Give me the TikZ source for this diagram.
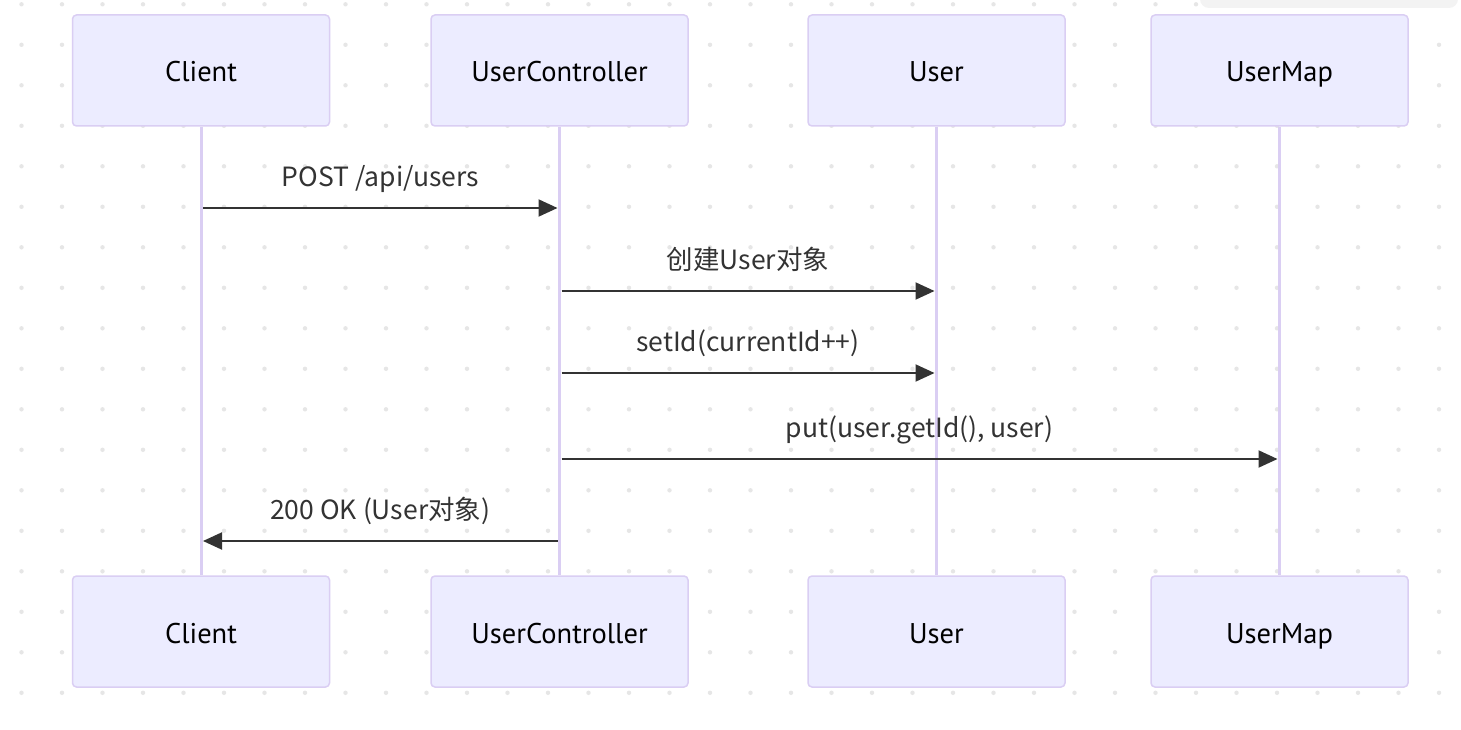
\documentclass[tikz,border=0pt]{standalone}
\usepackage{fontspec}
\usetikzlibrary{arrows.meta}
\newfontfamily\lblfont{Noto Sans CJK SC}
\newfontfamily\actfont{PT Sans}
\definecolor{actfill}{HTML}{ECECFF}
\definecolor{actline}{HTML}{DACEF3}
\definecolor{msgcol}{HTML}{333333}
\definecolor{dotcol}{HTML}{E6E6E6}
\definecolor{tabcol}{HTML}{F3F3F3}
\tikzset{
  actor/.style={draw=actline, line width=1.5pt, fill=actfill, rounded corners=4pt,
    minimum width=257pt, minimum height=111pt, inner sep=0pt,
    text height=28pt, text depth=5pt,
    font=\actfont\fontsize{28.5}{32}\selectfont, text=black},
  lifeline/.style={draw=actline, line width=3pt},
  msg/.style={draw=msgcol, line width=2pt, -{Triangle[length=19pt,width=17pt]}},
  lbl/.style={font=\lblfont\fontsize{26.5}{30}\selectfont, text=msgcol, inner sep=0pt, text depth=0pt}
}
\begin{document}
\begin{tikzpicture}[x=1pt,y=-1pt]
\useasboundingbox (0,0) rectangle (1461,730);
\fill[white] (0,0) rectangle (1461,730);
% dotted grid
\foreach \i in {0,...,35} {
  \foreach \j in {0,...,17} {
    \fill[dotcol] ({21.5+40.5*\i},{4.3+40.5*\j}) circle (2.2pt);
  }
}
% partial panel at top right
\begin{scope}
\clip (0,0) rectangle (1461,730);
\fill[tabcol, rounded corners=9pt] (1200,-30) rectangle (1458,8);
\end{scope}
% actors
\node[actor] (c1)  at (201,70.5) {Client};
\node[actor] (uc1) at (559.5,70.5) {UserController};
\node[actor] (u1)  at (936.5,70.5) {User};
\node[actor] (um1) at (1279.5,70.5) {UserMap};
\node[actor] (c2)  at (201,631.5) {Client};
\node[actor] (uc2) at (559.5,631.5) {UserController};
\node[actor] (u2)  at (936.5,631.5) {User};
\node[actor] (um2) at (1279.5,631.5) {UserMap};
% lifelines
\draw[lifeline] (c1.south) -- (c2.north);
\draw[lifeline] (uc1.south) -- (uc2.north);
\draw[lifeline] (u1.south) -- (u2.north);
\draw[lifeline] (um1.south) -- (um2.north);
% message end points
\coordinate (m1a) at ([xshift=2pt]c1.south |- 0,208);
\coordinate (m1b) at ([xshift=-2pt]uc1.south |- 0,208);
\coordinate (m2a) at ([xshift=2pt]uc1.south |- 0,291);
\coordinate (m2b) at ([xshift=-2pt]u1.south |- 0,291);
\coordinate (m3a) at ([xshift=2pt]uc1.south |- 0,373);
\coordinate (m3b) at ([xshift=-2pt]u1.south |- 0,373);
\coordinate (m4a) at ([xshift=2pt]uc1.south |- 0,459);
\coordinate (m4b) at ([xshift=-2pt]um1.south |- 0,459);
\coordinate (m5a) at ([xshift=-2pt]uc1.south |- 0,541);
\coordinate (m5b) at ([xshift=2pt]c1.south |- 0,541);
% messages
\draw[msg] (m1a) -- node[lbl, above=21pt] (l1) {POST /api/users} (m1b);
\draw[msg] (m2a) -- node[lbl, above=21pt] (l2) {创建User对象} (m2b);
\draw[msg] (m3a) -- node[lbl, above=21pt] (l3) {setId(currentId++)} (m3b);
\draw[msg] (m4a) -- node[lbl, above=21pt] (l4) {put(user.getId(), user)} (m4b);
\draw[msg] (m5a) -- node[lbl, above=21pt] (l5) {200 OK (User对象)} (m5b);
\end{tikzpicture}
\end{document}
